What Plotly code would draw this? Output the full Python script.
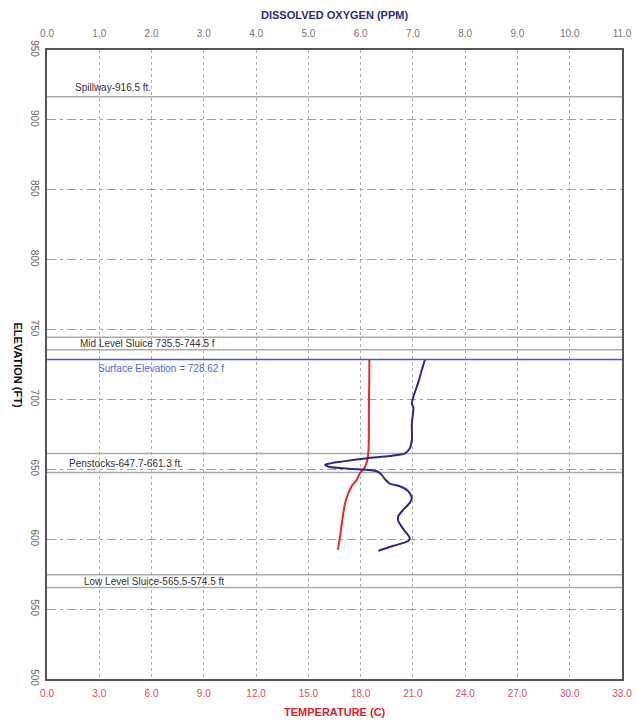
import plotly.graph_objects as go

# ---- data ----
temp_elev = [728.6, 720, 700, 680, 671, 662, 655, 650, 647.4, 642.6, 638, 633, 626, 614, 602, 592.5]
temp_c = [18.5, 18.5, 18.48, 18.47, 18.47, 18.44, 18.35, 18.16, 17.97, 17.78, 17.49, 17.30, 17.11, 16.95, 16.82, 16.69]

do_elev = [728.6, 721, 712, 702, 697, 694, 683, 671, 665, 661.5, 659.6, 658, 655.7, 653.3, 651.7,
           650.3, 648.6, 646.2, 642.7, 639.8, 637.9, 634.4, 629.6, 626, 621.3, 616.5, 613, 607, 601,
           598.7, 595.3, 591.7]
do_ppm = [7.23, 7.17, 7.10, 7.01, 6.98, 7.01, 6.98, 6.98, 6.94, 6.85, 6.56, 6.12, 5.67, 5.32, 5.41,
          5.86, 6.31, 6.40, 6.47, 6.56, 6.75, 6.91, 6.98, 6.94, 6.82, 6.72, 6.72, 6.82, 6.94,
          6.91, 6.63, 6.34]

ref_elev = [916.5, 744.5, 735.5, 661.3, 647.7, 574.5, 565.5]
surface_elev = 728.62

labels = [
    ("Spillway-916.5 ft.", 916.5, 0.045, "bottom", "#333333"),
    ("Mid Level Sluice 735.5-744.5 f", 740.0, 0.054, "middle", "#333333"),
    ("Surface Elevation = 728.62 f", 728.62, 0.085, "top", "#5566dd"),
    ("Penstocks-647.7-661.3 ft.", 654.5, 0.035, "middle", "#333333"),
    ("Low Level Sluice-565.5-574.5 ft", 570.0, 0.060, "middle", "#333333"),
]

temp_ticks = [0, 3, 6, 9, 12, 15, 18, 21, 24, 27, 30, 33]
do_ticks = [0, 1, 2, 3, 4, 5, 6, 7, 8, 9, 10, 11]
elev_ticks = [500, 550, 600, 650, 700, 750, 800, 850, 900, 950]

FONT = "Liberation Sans, Arial"

fig = go.Figure()
fig.add_trace(go.Scatter(x=temp_c, y=temp_elev, mode="lines", xaxis="x", yaxis="y",
                         line=dict(color="#e8262c", width=2, shape="spline", smoothing=0.6), showlegend=False))
fig.add_trace(go.Scatter(x=do_ppm, y=do_elev, mode="lines", xaxis="x2", yaxis="y",
                         line=dict(color="#2b2b80", width=2, shape="spline", smoothing=0.6), showlegend=False))

shapes = []
for e in ref_elev:
    shapes.append(dict(type="line", xref="paper", x0=0, x1=1, yref="y", y0=e, y1=e,
                       line=dict(color="#aaaaaa", width=1.5), layer="below"))
shapes.append(dict(type="line", xref="paper", x0=0, x1=1, yref="y", y0=surface_elev, y1=surface_elev,
                   line=dict(color="#4a55d0", width=1.5)))

annotations = []
for txt, e, xp, ya, col in labels:
    annotations.append(dict(text=txt, xref="paper", x=xp, xanchor="left", yref="y", y=e,
                            yanchor=ya, showarrow=False, yshift=(2 if ya == "bottom" else (-2 if ya == "top" else 0)),
                            font=dict(family=FONT, size=10, color=col)))
annotations.append(dict(text="<b>DISSOLVED OXYGEN (PPM)</b>", xref="paper", x=0.5, yref="paper", y=1.0,
                        yshift=35, showarrow=False, xanchor="center", yanchor="middle",
                        font=dict(family=FONT, size=11, color="#2b2b80")))
annotations.append(dict(text="<b>TEMPERATURE (C)</b>", xref="paper", x=0.5, yref="paper", y=0.0,
                        yshift=-33, showarrow=False, xanchor="center", yanchor="middle",
                        font=dict(family=FONT, size=11, color="#e0202e")))
annotations.append(dict(text="<b>ELEVATION (FT)</b>", xref="paper", x=0, xshift=-29, yref="paper", y=0.5,
                        textangle=90, showarrow=False, xanchor="center", yanchor="middle",
                        font=dict(family=FONT, size=11, color="#111111")))

fig.update_layout(
    width=637, height=725,
    margin=dict(l=47, r=15, t=50, b=46, autoexpand=False),
    paper_bgcolor="white", plot_bgcolor="white",
    shapes=shapes, annotations=annotations,
    xaxis=dict(range=[0, 33], tickvals=temp_ticks, ticktext=[f"{t:.1f}" for t in temp_ticks],
               showgrid=True, gridcolor="#b0b0b0", griddash="3px,3px", gridwidth=1,
               showline=True, linecolor="#555555", linewidth=1.5, mirror=True,
               ticks="outside", ticklen=4, tickcolor="rgba(0,0,0,0)", zeroline=False, automargin=False,
               tickfont=dict(family=FONT, size=10, color="#d9505c")),
    xaxis2=dict(range=[0, 11], tickvals=do_ticks, ticktext=[f"{t:.1f}" for t in do_ticks],
                overlaying="x", side="top", showgrid=False, zeroline=False,
                ticks="outside", ticklen=8, tickcolor="rgba(0,0,0,0)", automargin=False,
                showline=False,
                tickfont=dict(family=FONT, size=10, color="#777777")),
    yaxis=dict(range=[500, 950], tickvals=elev_ticks, ticktext=[str(t) for t in elev_ticks],
               tickangle=90, showgrid=True, gridcolor="#a0a0a0", griddash="9px,4px,3px,4px",
               gridwidth=1, showline=True, linecolor="#555555", linewidth=1.5, mirror=True,
               ticks="outside", ticklen=2, tickcolor="rgba(0,0,0,0)", zeroline=False, automargin=False,
               tickfont=dict(family=FONT, size=10, color="#666666")),
)

fig.write_html("out.html")
